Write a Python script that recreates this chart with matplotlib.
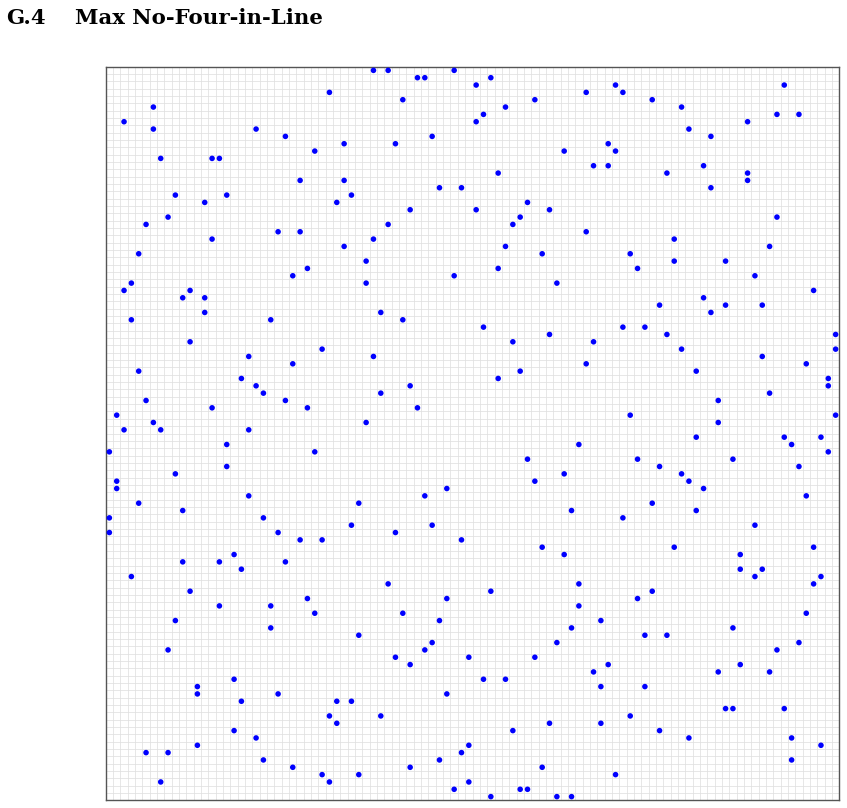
import matplotlib
matplotlib.use("Agg")
import matplotlib.pyplot as plt
import numpy as np

# Grid size (n x n cells)
grid_n = 100

# Column indices of the points in each row (row 0 = top row)
row_cols = [
    [36, 38, 47], [42, 43, 52], [50, 69, 92], [30, 65, 70], [40, 58, 74],
    [6, 54, 78], [51, 91, 94], [2, 50, 87], [6, 20, 79], [24, 44, 82],
    [32, 39, 68], [28, 62, 69], [7, 14, 15], [66, 68, 81], [53, 76, 87],
    [26, 32, 87], [45, 48, 82], [9, 16, 33], [13, 31, 57], [41, 50, 60],
    [8, 56, 91], [5, 38, 55], [23, 26, 65], [14, 36, 77], [32, 54, 90],
    [4, 59, 71], [35, 77, 84], [27, 53, 72], [25, 47, 88], [3, 35, 61],
    [2, 11, 96], [10, 13, 81], [75, 84, 89], [13, 37, 82], [3, 22, 40],
    [51, 70, 73], [60, 76, 99], [11, 55, 66], [29, 78, 99], [19, 36, 89],
    [25, 65, 95], [4, 56, 80], [18, 53, 98], [20, 41, 98], [21, 37, 90],
    [5, 24, 83], [14, 27, 42], [1, 71, 99], [6, 35, 83], [2, 7, 19],
    [80, 92, 97], [16, 64, 93], [0, 28, 98], [57, 72, 85], [16, 75, 94],
    [9, 62, 78], [1, 58, 79], [1, 46, 81], [19, 43, 95], [4, 34, 74],
    [10, 63, 80], [0, 21, 70], [33, 44, 88], [0, 23, 39], [26, 29, 48],
    [59, 77, 96], [17, 62, 86], [10, 15, 24], [18, 86, 89], [3, 88, 97],
    [38, 64, 96], [11, 52, 74], [27, 46, 72], [15, 22, 64], [28, 40, 95],
    [9, 45, 67], [22, 63, 85], [34, 73, 76], [44, 61, 94], [8, 43, 91],
    [39, 49, 58], [41, 68, 86], [66, 83, 90], [17, 51, 54], [12, 67, 73],
    [12, 23, 46], [18, 31, 33], [84, 85, 92], [30, 37, 71], [31, 60, 67],
    [17, 55, 75], [20, 79, 93], [12, 49, 97], [5, 8, 48], [21, 45, 93],
    [25, 41, 59], [29, 34, 69], [7, 30, 49], [47, 56, 57], [52, 61, 63],
]

title_label = "G.4"
title_text = "Max No-Four-in-Line"

xs = []
ys = []
for r, cols in enumerate(row_cols):
    for c in cols:
        xs.append(c + 0.5)
        ys.append(r + 0.5)

W, H = 847, 808
fig = plt.figure(figsize=(W / 100, H / 100), dpi=100)
left, right, top, bottom = 105.7, 839.3, 66.7, 800.3
ax = fig.add_axes([left / W, 1 - bottom / H, (right - left) / W, (bottom - top) / H])

ax.set_xlim(0, grid_n)
ax.set_ylim(grid_n, 0)
ax.set_xticks(np.arange(grid_n + 1))
ax.set_yticks(np.arange(grid_n + 1))
ax.tick_params(length=0, labelbottom=False, labelleft=False)
ax.grid(True, color="#e0e0e0", linewidth=0.55)
ax.set_axisbelow(True)
for s in ax.spines.values():
    s.set_color("#555555")
    s.set_linewidth(1.0)

ax.scatter(xs, ys, s=16, color="#0000ff", edgecolors="none", zorder=3, clip_on=False)

fig.text(6 / W, 1 - 24 / H, title_label, fontsize=15.3, fontweight="bold",
         family="DejaVu Serif", ha="left", va="baseline")
fig.text(75 / W, 1 - 24 / H, title_text, fontsize=15.3, fontweight="bold",
         family="DejaVu Serif", ha="left", va="baseline")

fig.savefig("out.png", dpi=100)
